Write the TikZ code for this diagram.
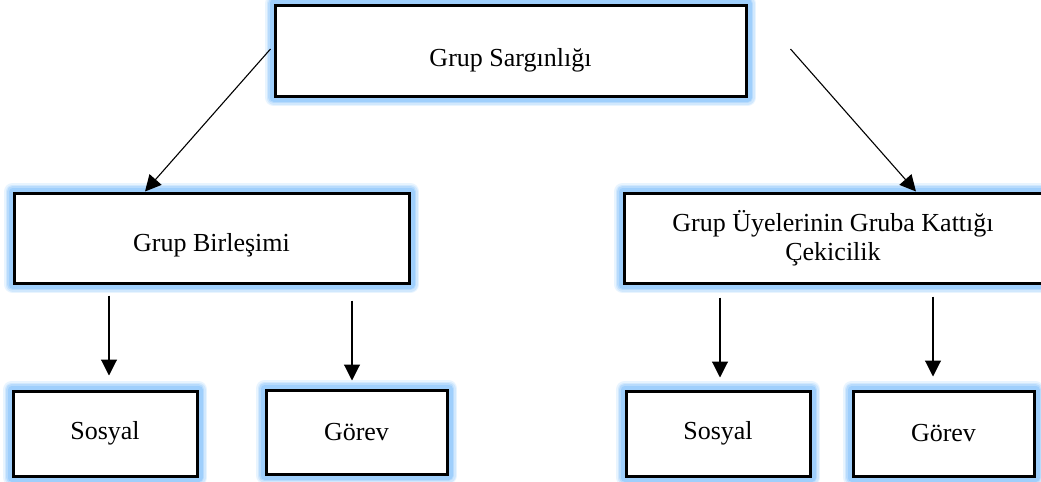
\documentclass[tikz,border=0pt]{standalone}
\usepackage{fontspec}
\setmainfont{Liberation Serif}
\usetikzlibrary{arrows.meta,backgrounds}
\definecolor{glowc}{RGB}{115,185,250}
\tikzset{
  box/.style={draw=black, line width=1.5pt, fill=white, inner sep=0pt,
    font=\fontsize{13}{14.5}\selectfont, align=center},
  lowtext/.style={text height=#1, text depth=3pt},
  arr/.style={draw=black, line width=0.55pt,
    -{Triangle[length=8pt,width=8pt]}},
}
\begin{document}
\begin{tikzpicture}[x=0.5pt,y=-0.5pt]
\useasboundingbox (0,0) rectangle (1041,482);
% nodes
\node[box, lowtext=19pt, minimum width=235.5pt, minimum height=45.5pt] (top) at (510.5,50.5) {Grup Sargınlığı};
\node[box, lowtext=16pt, minimum width=197.5pt, minimum height=45pt] (lmid) at (211.5,238) {Grup Birleşimi};
\node[box, minimum width=209pt, minimum height=45pt] (rmid) at (833,238) {Grup Üyelerinin Gruba Kattığı\\Çekicilik};
\node[box, minimum width=92pt, minimum height=42.5pt] (ls) at (105,433.5) {Sosyal};
\node[box, minimum width=90.5pt, minimum height=42pt] (lg) at (356.5,432) {Görev};
\node[box, minimum width=92pt, minimum height=42.5pt] (rs) at (718,433.5) {Sosyal};
\node[box, minimum width=90.5pt, minimum height=42.5pt] (rg) at (943.5,433.5) {Görev};
% glow
\begin{scope}[on background layer]
\foreach \n in {top,lmid,rmid,ls,lg,rs,rg}{
  \foreach \w/\o in {8.5/0.16,7/0.2,5.5/0.27,4/0.36}{
    \draw[glowc, line width=\w pt, opacity=\o, line join=round]
      (\n.south west) rectangle (\n.north east);
  }
}
\end{scope}
% connectors
\draw[arr] ([xshift=-1.5pt,yshift=0.75pt]top.west) -- ([xshift=-33.25pt]lmid.north);
\draw[arr] ([xshift=21.5pt,yshift=0.75pt]top.east) -- ([xshift=41.5pt]rmid.north);
\draw[arr] ([xshift=2pt,yshift=-5.5pt]lmid.south -| ls.north) -- ([xshift=2pt,yshift=7pt]ls.north);
\draw[arr] ([xshift=-2.25pt,yshift=-8pt]lmid.south -| lg.north) -- ([xshift=-2.25pt,yshift=4pt]lg.north);
\draw[arr] ([xshift=1pt,yshift=-6.5pt]rmid.south -| rs.north) -- ([xshift=1pt,yshift=6pt]rs.north);
\draw[arr] ([xshift=-5.25pt,yshift=-6pt]rmid.south -| rg.north) -- ([xshift=-5.25pt,yshift=6.5pt]rg.north);
\end{tikzpicture}
\end{document}
